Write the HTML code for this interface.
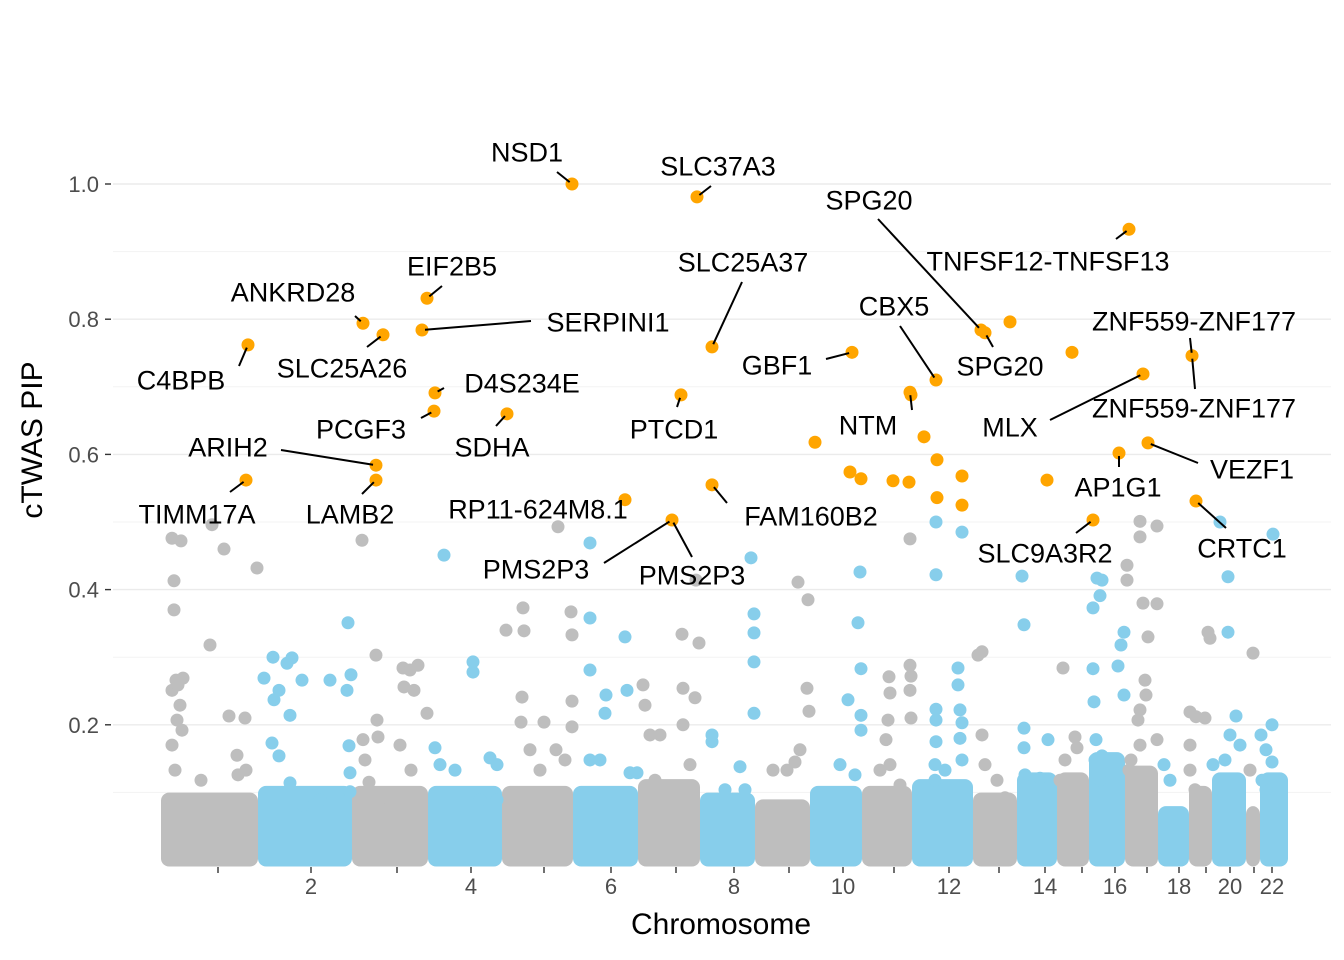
<!DOCTYPE html>
<html><head><meta charset="utf-8"><style>
html,body{margin:0;padding:0;background:#fff;}
svg{display:block;font-family:"Liberation Sans",sans-serif;}
</style></head><body>
<svg id="chart" width="1344" height="960" viewBox="0 0 1344 960" xmlns="http://www.w3.org/2000/svg">
<g id="grid"></g>
<g id="bands"></g>
<g id="pts"></g>
<g id="hl"></g>
<g id="segs"></g>
<g id="labs"></g>
<g id="axes"></g>
<text x="0" y="0" transform="translate(42,440) rotate(-90)" text-anchor="middle" font-size="30" fill="#000">cTWAS PIP</text>
<text x="721" y="934" text-anchor="middle" font-size="30" fill="#000">Chromosome</text>
</svg>
<script>
const chrLens=[97,94,76,74,71,65,62,55,55,52,50,61,44,40,32,36,33,31,23,34,14,28];
const tickPos=[57,150,236,310,383,450,515,573,628,682,733,788,838,884,921,954,986,1018,1045,1069,1093,1111];
const bandTops=[.09,.1,.1,.1,.1,.1,.11,.09,.08,.1,.1,.11,.09,.12,.12,.15,.13,.07,.1,.12,.07,.12];
const yTicks=[0.2,0.4,0.6,0.8,1.0];
const xTickLabels=["","2","","4","","6","","8","","10","","12","","14","","16","","18","","20","","22"];
const bgPos=[11,20,13,13,15,11,17,22,19,16,21,11,14,11,49,63,51,96,68,84,76,77,40,47,85,
103,113,118,112,126,131,141,129,111,118,129,169,186,190,187,188,189,189,142,159,
201,215,216,217,202,204,208,239,242,249,243,253,257,266,250,229,
283,312,312,274,279,294,329,336,336,319,
397,362,345,363,361,360,383,369,379,395,410,411,411,411,404,
429,429,464,429,445,466,444,429,439,469,476,
482,484,489,499,521,538,522,522,534,529,494,535,
590,593,593,593,593,551,551,579,564,584,
637,647,646,648,639,612,634,626,
699,697,700,687,700,700,679,694,
749,749,728,729,727,725,729,719,739,749,750,750,
775,775,775,775,775,774,774,797,797,799,801,799,801,801,784,
817,821,821,836,844,824,
861,863,863,863,864,879,887,
902,914,916,904,899,
936,941,939,932,932,934,941,935,933,939,963,960,957,963,
966,966,979,996,979,982,996,987,984,985,979,977,979,996,970,968,
1003,1009,
1029,1035,1044,1029,1029,1034,1047,1049,
1059,1067,1067,1075,1069,1064,1079,1052,
1092,1089,
1112,1111,1100,1105,1111,1105,1101];
const bgPip=[.476,.472,.413,.370,.266,.251,.259,.269,.229,.207,.192,.170,.133,.089,.318,.460,.496,.432,.213,.210,.155,.126,.118,.081,.133,
.269,.237,.251,.300,.291,.299,.266,.214,.173,.154,.114,.266,.251,.274,.351,.169,.129,.101,.081,.089,
.473,.303,.207,.182,.178,.148,.115,.170,.284,.281,.256,.251,.288,.217,.133,.089,
.451,.293,.278,.166,.141,.133,.151,.141,.089,.089,
.493,.373,.340,.339,.241,.204,.204,.163,.133,.163,.367,.333,.235,.197,.148,
.469,.358,.330,.281,.244,.251,.217,.148,.148,.129,.129,
.259,.229,.185,.185,.334,.321,.254,.200,.240,.141,.118,.414,
.447,.364,.336,.293,.217,.185,.175,.138,.104,.104,
.411,.385,.254,.220,.163,.133,.145,.133,
.426,.351,.283,.237,.214,.192,.141,.126,
.475,.288,.271,.247,.207,.178,.141,.133,.111,.251,.272,.210,
.500,.422,.223,.207,.175,.141,.118,.284,.259,.222,.203,.180,.148,.485,.133,
.303,.308,.185,.118,.092,.141,
.420,.348,.195,.166,.126,.121,.178,
.284,.182,.166,.148,.118,
.417,.414,.391,.373,.283,.148,.154,.178,.234,.118,.337,.318,.287,.244,
.436,.414,.501,.494,.478,.380,.379,.330,.266,.244,.222,.207,.170,.178,.148,.133,
.141,.118,
.219,.212,.210,.170,.133,.104,.337,.328,
.500,.419,.337,.213,.185,.148,.170,.141,
.306,.133,
.482,.200,.185,.163,.145,.104,.118];
const hlPos=[411,536,968,266,202,222,261,820,824,849,87,551,691,911,1031,775,982,274,520,749,750,273,346,654,763,776,801,689,700,732,748,776,801,886,958,987,215,215,85,464,551,511,1035,932];
const hlPip=[1.0,.981,.933,.831,.794,.777,.784,.784,.780,.796,.762,.759,.751,.751,.746,.710,.719,.691,.688,.692,.688,.664,.660,.618,.626,.592,.568,.574,.564,.561,.559,.536,.525,.562,.602,.617,.584,.562,.562,.533,.555,.503,.531,.503];
const labTexts=["NSD1","SLC37A3","TNFSF12-TNFSF13","EIF2B5","ANKRD28","SLC25A26","SERPINI1","SPG20","SPG20","C4BPB","SLC25A37","GBF1","ZNF559-ZNF177","ZNF559-ZNF177","CBX5","MLX","D4S234E","PTCD1","NTM","PCGF3","SDHA","AP1G1","VEZF1","ARIH2","LAMB2","TIMM17A","RP11-624M8.1","FAM160B2","PMS2P3","PMS2P3","CRTC1","SLC9A3R2"];
const labTarget=[0,1,2,3,4,5,6,7,8,10,11,12,14,14,15,16,17,18,19,21,22,34,35,36,37,38,39,40,41,41,42,43];
const labLayout=[[527,152,557,172],[718,166,711,186],[1048,261,1116,239],[452,266,442,286],[293,292,355,316],[342,368,367,347],[608,322,531,321],[869,200,878,219],[1000,366,993,347],[181,380,239,366],[743,262,742,282],[777,365,826,359],[1194,321,1190,338],[1194,408,1195,389],[894,306,900,326],[1010,427,1050,420],[522,383,444,388],[674,429,677,407],[868,425,912,410],[361,429,421,418],[492,447,496,426],[1118,487,1119,467],[1252,469,1198,463],[228,447,281,450],[350,514,362,494],[197,514,230,492],[538,509,null,null],[811,516,727,503],[536,569,604,563],[692,575,692,557],[1242,548,1226,528],[1045,553,1076,533]];

const NS="http://www.w3.org/2000/svg";
const X0=161, Y0=860, YS=676;
const xs=g=>X0+g;
const ys=p=>Y0-p*YS;
const starts=[];let acc=0;chrLens.forEach(l=>{starts.push(acc);acc+=l;});
function chrOf(g){for(let i=chrLens.length-1;i>=0;i--){if(g>=starts[i])return i;}return 0;}
const cols=["#BEBEBE","#87CEEB"];
function el(t,a,p){const e=document.createElementNS(NS,t);for(const k in a)e.setAttribute(k,a[k]);p.appendChild(e);return e;}
const grid=document.getElementById('grid');
[0.1,0.3,0.5,0.7,0.9].forEach(v=>{const l=el('line',{x1:113,x2:1331,y1:ys(v),y2:ys(v),stroke:'#f3f3f3','stroke-width':1},grid);

});
yTicks.forEach(v=>{const l=el('line',{x1:113,x2:1331,y1:ys(v),y2:ys(v),stroke:'#ebebeb','stroke-width':1.4},grid);

});
const axes=document.getElementById('axes');
yTicks.forEach(v=>{
const t=el('line',{x1:105,x2:111,y1:ys(v),y2:ys(v),stroke:'#333','stroke-width':1.4},axes);


const tx=el('text',{x:99,y:ys(v)+8,'text-anchor':'end','font-size':22,fill:'#4d4d4d'},axes);
tx.textContent=v.toFixed(1);


});
tickPos.forEach((p,i)=>{
const cx=xs(p);
const t=el('line',{x1:cx,x2:cx,y1:867,y2:873,stroke:'#333','stroke-width':1.4},axes);


if(xTickLabels[i]){const tx=el('text',{x:cx,y:894,'text-anchor':'middle','font-size':22,fill:'#4d4d4d'},axes);
tx.textContent=xTickLabels[i];

}
});
const bands=document.getElementById('bands');
chrLens.forEach((l,i)=>{
const top=ys(bandTops[i])-6.5;
const r=el('rect',{x:xs(starts[i]),y:top,width:l,height:866.5-top,rx:8,fill:cols[i%2]},bands);


});
const pts=document.getElementById('pts');
bgPos.forEach((g,i)=>{
const c=el('circle',{cx:xs(g),cy:ys(bgPip[i]),r:6.5,fill:cols[chrOf(g)%2]},pts);


});
const hl=document.getElementById('hl');
hlPos.forEach((g,i)=>{
const c=el('circle',{cx:xs(g),cy:ys(hlPip[i]),r:6.5,fill:'#FFA500'},hl);


});
const segs=document.getElementById('segs'),labs=document.getElementById('labs');
labTexts.forEach((txt,i)=>{
const L=labLayout[i],k=labTarget[i];
const px=xs(hlPos[k]),py=ys(hlPip[k]);
if(L[2]!==null){
const dx=px-L[2],dy=py-L[3],d=Math.hypot(dx,dy)||1;
const s=el('line',{x1:L[2],y1:L[3],x2:px-dx/d*3,y2:py-dy/d*3,stroke:'#000','stroke-width':2},segs);

}
const t=el('text',{x:L[0],y:L[1]+9.5,'text-anchor':'middle','font-size':27,fill:'#000'},labs);
t.textContent=txt;


});
</script>
</body></html>
